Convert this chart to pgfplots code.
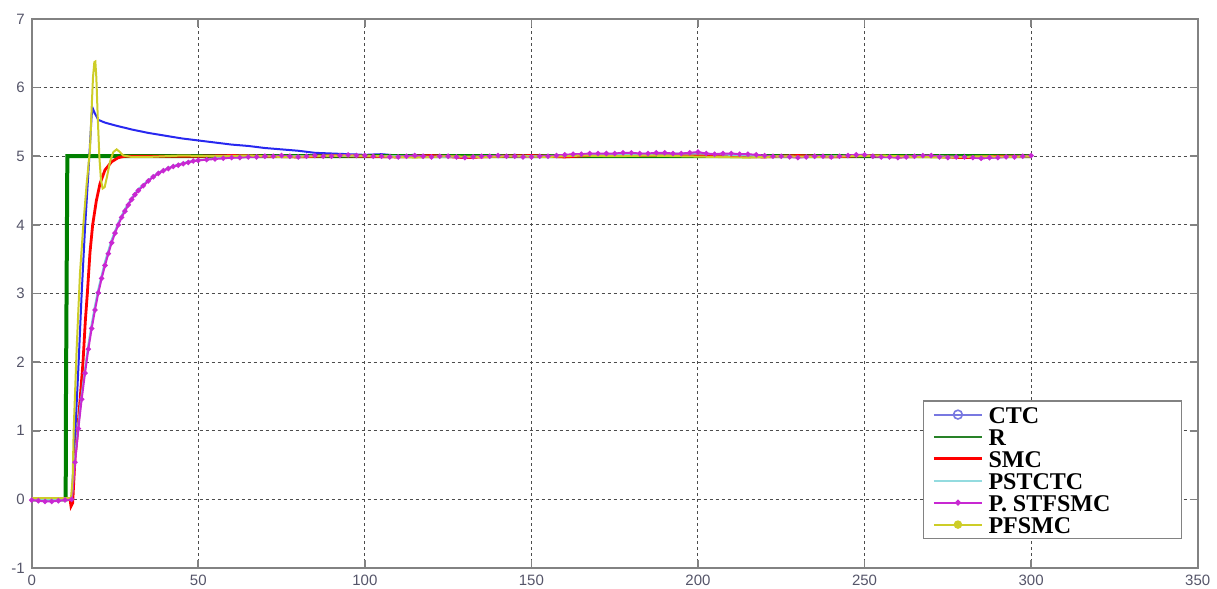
\documentclass[border=0pt]{standalone}
\usepackage{fontspec}
\setmainfont{Liberation Sans}
\newfontfamily\legfont{Liberation Serif}
\usepackage{pgfplots}
\pgfplotsset{compat=1.18}
\definecolor{ctcblue}{RGB}{40,40,240}
\definecolor{ctcleg}{RGB}{120,120,225}
\definecolor{rgreen}{RGB}{0,128,0}
\definecolor{rleg}{RGB}{40,130,40}
\definecolor{smcred}{RGB}{255,0,0}
\definecolor{pcyan}{RGB}{120,210,215}
\definecolor{pmag}{RGB}{200,40,210}
\definecolor{pyel}{RGB}{205,205,40}
\definecolor{ticklab}{RGB}{85,85,105}
\definecolor{axgray}{RGB}{130,130,130}
\begin{document}
\begin{tikzpicture}
\begin{axis}[
  scale only axis,
  width=583pt, height=274.5pt,
  xmin=0, xmax=350, ymin=-1, ymax=7,
  xtick={0,50,...,350}, ytick={-1,0,...,7},
  grid=major,
  major grid style={gray!60!black, line width=0.5pt, dash pattern=on 1.5pt off 1.5pt},
  axis line style={axgray, line width=1pt},
  tick style={axgray, line width=0.8pt},
  major tick length=4pt,
  tick align=inside,
  /pgf/number format/assume math mode=true,
  tick label style={font=\fontsize{7.5}{9}\selectfont, text=ticklab},
  legend style={at={(rel axis cs:0.764,0.306)}, anchor=north west,
    draw=axgray, line width=0.8pt, fill=white, inner sep=2.5pt,
    row sep=2.2pt, column sep=2.5pt,
    font=\legfont\fontsize{12}{12}\selectfont\bfseries,
    nodes={inner sep=0pt, text height=8.8pt, text depth=0pt}},
  legend cell align=left,
  legend image code/.code={\path (0pt,0pt); \draw[mark repeat=2,mark phase=2,#1] plot coordinates {(2pt,0pt) (14pt,0pt) (26pt,0pt)};},
]
% CTC
\addplot[ctcblue, line width=1pt, mark=none, forget plot] coordinates {
(0,0) (5,0) (11.5,0) (12,0.02) (13,0.9) (14,1.9) (15,3.0) (16,3.95) (17,4.75) (18,5.6) (18.4,5.69) (19,5.62) (20,5.53) (22,5.49) (25,5.45) (30,5.39) (35,5.34) (40,5.30) (45,5.26) (50,5.23) (55,5.20) (60,5.17) (65,5.15) (70,5.12) (75,5.10) (80,5.08) (85,5.05) (90,5.04) (95,5.03) (100,5.02)
(105,5.03) (110,5.01) (115,5.02) (120,5.00) (125,5.01) (130,4.99) (135,5.01) (140,5.00) (145,5.02) (150,5.00) (155,4.99) (160,5.01) (165,5.02) (170,5.01) (175,5.03) (180,5.02) (185,5.01) (190,5.03) (195,5.02) (200,5.04) (205,5.01) (210,5.00) (215,5.01) (220,4.99) (225,5.00) (230,5.01) (235,4.99) (240,5.00) (245,5.01) (250,5.02) (255,5.00) (260,4.99) (265,5.01) (270,5.00) (275,4.99) (280,5.02) (285,4.97) (290,4.99) (295,5.00) (300,5.01)};
% R
\addplot[rgreen, line width=2pt, mark=none, forget plot] coordinates {
(0,0) (10.2,0) (10.3,1.6) (10.5,3.3) (10.7,5) (300,5)};
% SMC
\addplot[smcred, line width=1.4pt, mark=none, forget plot] coordinates {
(0,0) (11.5,0) (11.8,-0.1) (12.3,-0.05) (13,0.6) (13.8,1.0) (14.6,1.5) (15.4,2.0) (16.1,2.6) (16.7,3.0) (17.5,3.6) (18.3,4.0) (19.4,4.35) (20.5,4.6) (22,4.8) (24,4.92) (26,4.98) (28,5.0)
(40,5.0) (50,5.0) (60,5.01) (70,5.0) (80,4.99) (90,5.01) (100,5.0) (110,4.99) (120,5.01) (130,4.98) (140,5.0) (150,5.01) (160,4.99) (170,5.02) (180,5.01) (190,5.02) (200,5.01) (210,5.0) (220,4.99) (230,5.01) (240,4.99) (250,5.01) (260,4.99) (270,5.0) (280,4.98) (290,5.0) (300,5.0)};
% PSTCTC
\addplot[pcyan, line width=1pt, mark=none, forget plot] coordinates {
(0,0) (5,-0.01) (11.8,0) (12,0) (13,0.6) (14,1.1) (15,1.52) (16,1.9) (17,2.25) (18,2.55) (19,2.82) (20,3.06) (22,3.46) (24,3.78) (26,4.03) (28,4.23) (30,4.39) (32,4.52) (35,4.65) (38,4.76) (41,4.83) (44,4.88) (47,4.92) (50,4.94) (55,4.97) (60,4.98) (65,4.99) (70,5.0)
(80,5.0) (90,5.01) (100,5.0) (110,5.0) (120,4.99) (130,4.99) (140,5.0) (150,5.0) (160,5.01) (170,5.03) (180,5.03) (190,5.04) (200,5.04) (210,5.02) (220,5.0) (230,4.99) (240,5.0) (250,5.01) (260,4.99) (270,5.0) (280,4.99) (290,4.99) (300,5.0)};
% P. STFSMC
\addplot[pmag, line width=1pt, mark=*, mark size=0.75pt, forget plot] coordinates {
(0,-0.01) (2,-0.02) (4,-0.03) (6,-0.03) (8,-0.02) (10,-0.01) (12,0) (13,0.54) (14,1.03) (15,1.46) (16,1.84) (17,2.19) (18,2.49) (19,2.76) (20,3.01) (21,3.22) (22,3.41) (23,3.58) (24,3.74) (25,3.88) (26,4.00) (27,4.11) (28,4.20) (29,4.29) (30,4.37) (31,4.44) (32,4.50) (33.5,4.57) (35,4.64) (36.5,4.70) (38,4.75) (39.5,4.79) (41,4.82) (42.5,4.85) (44,4.87) (45.5,4.89) (47,4.91) (48.5,4.93) (50,4.94) (52.5,4.95) (55,4.96) (57.5,4.97) (60,4.98) (62.5,4.98) (65,4.99) (67.5,4.99) (70,5.0)
(72.5,5.0) (75,5.01) (77.5,5.0) (80,4.99) (82.5,5.0) (85,5.01) (87.5,5.0) (90,5.0) (92.5,5.01) (95,5.02) (97.5,5.01) (100,5.01) (102.5,5.0) (105,5.0) (107.5,4.99) (110,4.99) (112.5,5.0) (115,5.01) (117.5,5.0) (120,4.99) (122.5,5.0) (125,5.0) (127.5,4.99) (130,4.98) (132.5,4.99) (135,5.0) (137.5,5.0) (140,5.01) (142.5,5.0) (145,5.0) (147.5,4.99) (150,4.99) (152.5,5.0) (155,5.0) (157.5,5.01) (160,5.02) (162.5,5.03) (165,5.03) (167.5,5.04) (170,5.04) (172.5,5.04) (175,5.04) (177.5,5.05) (180,5.05) (182.5,5.04) (185,5.04) (187.5,5.05) (190,5.05) (192.5,5.04) (195,5.04) (197.5,5.05) (200,5.06) (202.5,5.04) (205,5.03) (207.5,5.04) (210,5.04) (212.5,5.03) (215,5.03) (217.5,5.02) (220,5.01) (222.5,5.0) (225,5.0) (227.5,4.99) (230,4.98) (232.5,4.99) (235,5.0) (237.5,5.0) (240,4.99) (242.5,5.0) (245,5.01) (247.5,5.02) (250,5.02) (252.5,5.0) (255,4.99) (257.5,4.99) (260,4.98) (262.5,4.99) (265,5.0) (267.5,5.01) (270,5.01) (272.5,4.99) (275,4.98) (277.5,4.99) (280,4.99) (282.5,4.98) (285,4.97) (287.5,4.98) (290,4.98) (292.5,4.99) (295,4.99) (297.5,5.0) (300,5.01)};
% PFSMC
\addplot[pyel, line width=1pt, mark=none, forget plot] coordinates {
(0,0.02) (11.8,0.02) (12.3,0.3) (12.6,1.0) (13.5,2.2) (14.5,3.3) (15.5,4.0) (16.5,4.6) (17.5,5.1) (18,5.7) (18.4,6.15) (18.8,6.37) (19.1,6.38) (19.4,6.15) (19.8,5.6) (20.3,5.0) (20.8,4.65) (21.3,4.53) (21.9,4.55) (22.6,4.7) (23.5,4.92) (24.5,5.06) (25.5,5.1) (26.5,5.06) (27.5,5.01) (30,4.99)
(35,4.99) (45,5.01) (55,5.0) (65,5.01) (75,4.99) (85,5.0) (95,5.01) (105,5.0) (115,4.98) (125,5.0) (135,4.99) (145,5.0) (155,4.99) (165,5.01) (175,5.0) (185,5.01) (195,5.0) (205,4.99) (215,4.98) (225,5.0) (235,4.99) (245,5.0) (255,5.01) (265,4.99) (275,4.98) (285,5.0) (295,4.99) (300,5.0)};
% legend
\addlegendimage{ctcleg, line width=1pt, mark=o, mark size=2.2pt, mark options={line width=0.8pt}}
\addlegendentry{\makebox[94pt][l]{CTC}}
\addlegendimage{rleg, line width=1pt}
\addlegendentry{R}
\addlegendimage{smcred, line width=1.6pt}
\addlegendentry{SMC}
\addlegendimage{pcyan!80!white, line width=1pt}
\addlegendentry{PSTCTC}
\addlegendimage{pmag, line width=1pt, mark=*, mark size=0.9pt}
\addlegendentry{P. STFSMC}
\addlegendimage{pyel, line width=1pt, mark=*, mark size=1.6pt}
\addlegendentry{PFSMC}
\end{axis}
\pgfresetboundingbox
\path ([shift={(-15.85pt,-10.5pt)}]current axis.south west) rectangle ([shift={(9.65pt,9.5pt)}]current axis.north east);
\end{tikzpicture}
\end{document}
